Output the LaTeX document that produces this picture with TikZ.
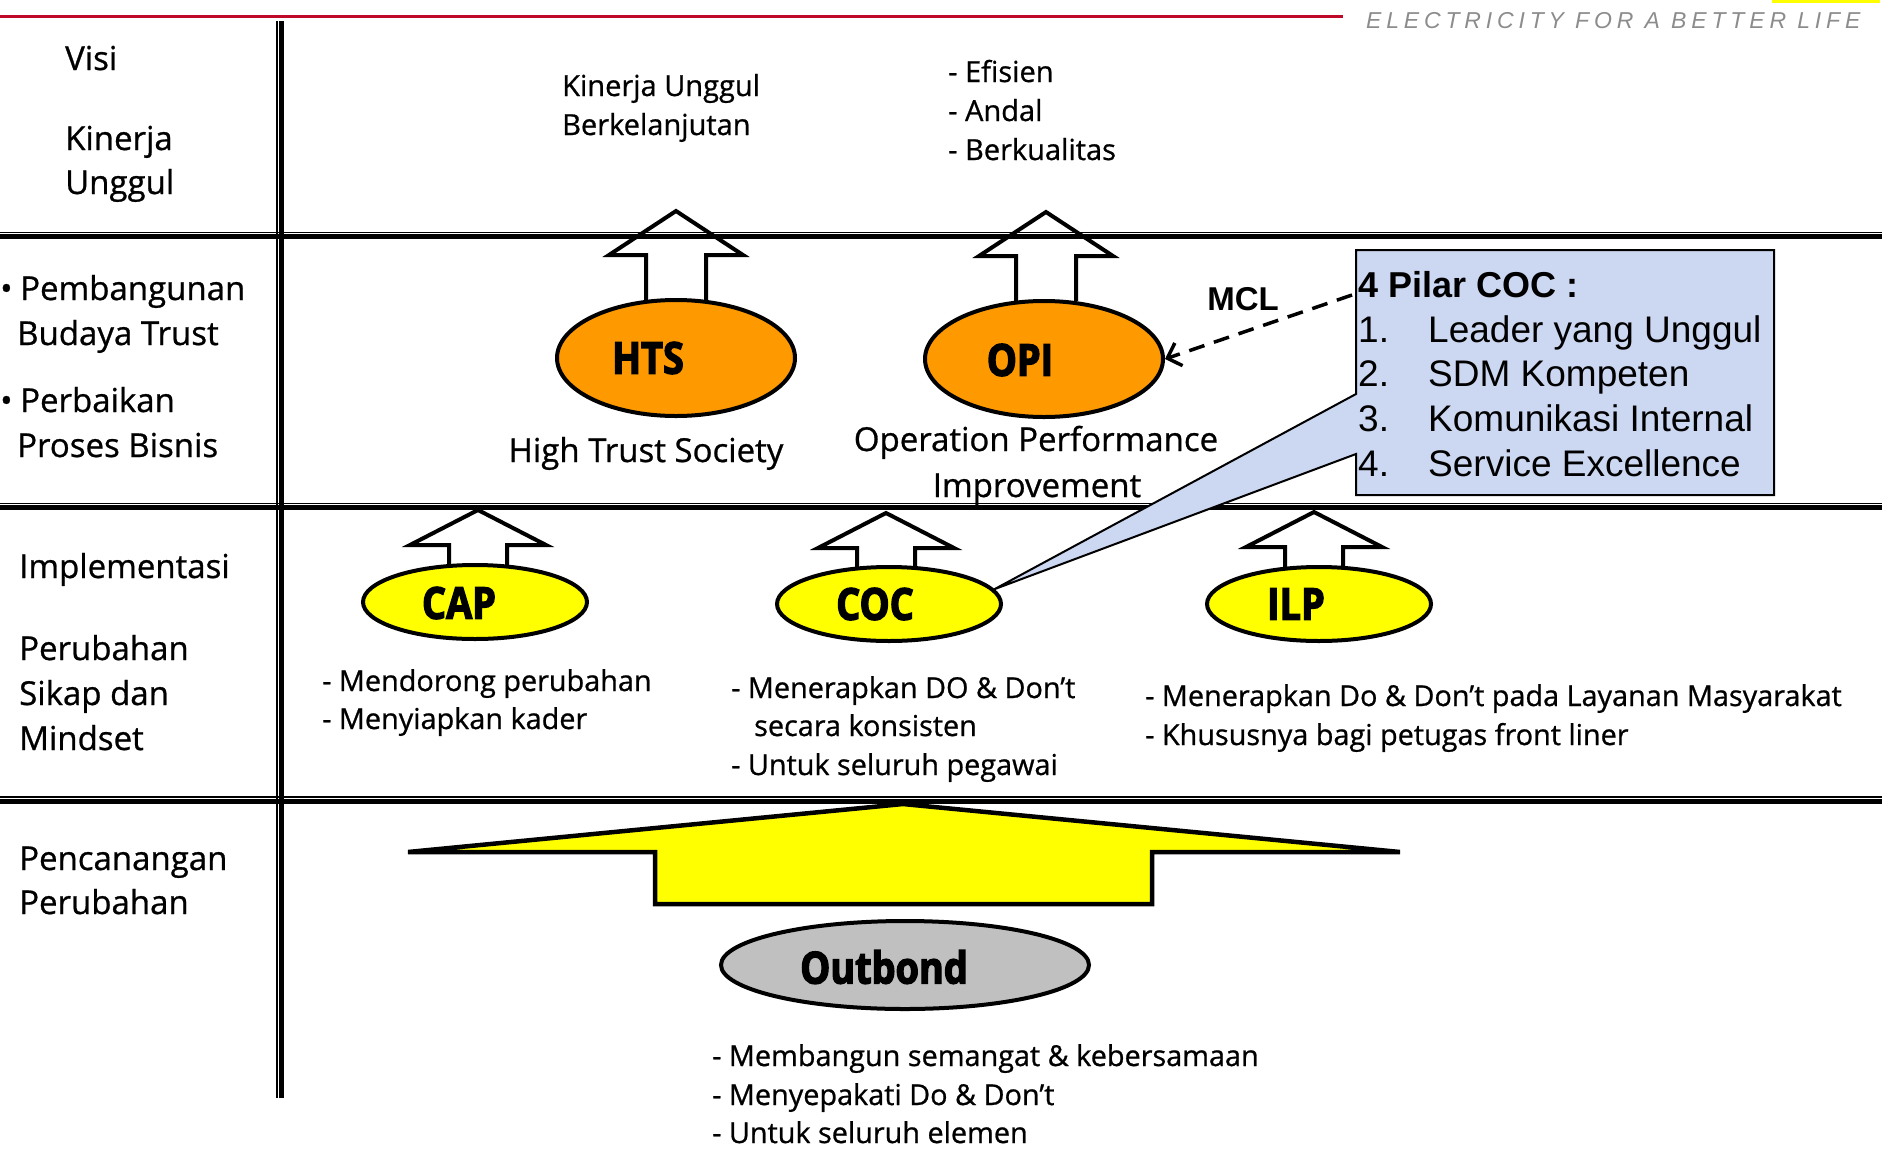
\documentclass[tikz,border=0pt]{standalone}
\usepackage{fontspec}
\setmainfont{Open Sans}[FakeBold=0.8]
\newfontfamily\arialf{Liberation Sans}
\newfontfamily\heavyf{Open Sans}[FakeBold=3,FakeStretch=0.86]
\usetikzlibrary{shapes.geometric,arrows.meta}
\definecolor{orng}{RGB}{255,153,0}
\definecolor{ylw}{RGB}{255,255,0}
\definecolor{gry}{RGB}{192,192,192}
\definecolor{lblue}{RGB}{204,216,242}
\definecolor{pred}{RGB}{190,10,40}
\definecolor{tagg}{RGB}{140,140,140}
\tikzset{
 lbl/.style={anchor=base west, inner sep=0, font=\fontsize{33}{40}\selectfont},
 body/.style={anchor=base west, inner sep=0, font=\fontsize{28.8}{34}\selectfont},
 mid/.style={anchor=base, inner sep=0, font=\fontsize{33}{40}\selectfont},
 ell/.style={ellipse, draw, line width=4, inner sep=0},
 hvy/.style={inner sep=0, font=\heavyf\bfseries\fontsize{44}{50}\selectfont},
 arrline/.style={draw, line width=4},
 boxtxt/.style={anchor=base west, inner sep=0, font=\arialf\fontsize{37}{44}\selectfont},
 thinrule/.style={line width=1.2},
 thickrule/.style={line width=4.2},
 bigup/.pic={\draw[arrline] (-30,0) -- (-30,-45) -- (-67,-45) -- (0,-89) -- (67,-45) -- (30,-45) -- (30,0);},
 smallup/.pic={\draw[arrline] (-29,0) -- (-29,-21) -- (-68,-21) -- (0,-56) -- (68,-21) -- (29,-21) -- (29,0);},
}
\begin{document}
\begin{tikzpicture}[x=1pt,y=-1pt]
\useasboundingbox (0,0) rectangle (1882,1173);
% header
\fill[pred] (0,15) rectangle (1343,17.5);
\fill[ylw] (1772,0) rectangle (1880,2.5);
\node[anchor=base west, inner sep=0, text=tagg, font=\arialf\itshape\fontsize{23}{26}\selectfont\addfontfeatures{LetterSpace=21}] (tag) at (1366,28) {ELECTRICITY FOR A BETTER LIFE};
% grid
\draw[thinrule] (277,21) -- (277,1098);
\draw[thickrule] (281.5,21) -- (281.5,1098);
\draw[thinrule] (0,232.5) -- (1882,232.5);
\draw[thickrule] (0,236.5) -- (1882,236.5);
\draw[thinrule] (0,503.5) -- (1882,503.5);
\draw[thickrule] (0,507.5) -- (1882,507.5);
\draw[thinrule] (0,797) -- (1882,797);
\draw[thickrule] (0,801.5) -- (1882,801.5);
% left column
\node[lbl] (visi) at (65,70) {Visi};
\node[lbl] (kin) at (65,150) {Kinerja};
\node[lbl] (ung) at (65,194) {Unggul};
\node[lbl] (bul1) at (0,300) {•};
\node[lbl] (pb1) at (20,300) {Pembangunan};
\node[lbl] (pb2) at (17,345) {Budaya Trust};
\node[lbl] (bul2) at (0,412) {•};
\node[lbl] (pp1) at (20,412) {Perbaikan};
\node[lbl] (pp2) at (17,457) {Proses Bisnis};
\node[lbl] (imp) at (19,578) {Implementasi};
\node[lbl] (ps1) at (19,660) {Perubahan};
\node[lbl] (ps2) at (19,705) {Sikap dan};
\node[lbl] (ps3) at (19,750) {Mindset};
\node[lbl] (pc1) at (19,870) {Pencanangan};
\node[lbl] (pc2) at (19,914) {Perubahan};
% top texts
\node[body, font=\fontsize{29}{34}\selectfont] (ku1) at (562,96) {Kinerja Unggul};
\node[body, font=\fontsize{29}{34}\selectfont] (ku2) at (562,135) {Berkelanjutan};
\node[body, font=\fontsize{29}{34}\selectfont] (ef1) at (948,82) {- Efisien};
\node[body, font=\fontsize{29}{34}\selectfont] (ef2) at (948,121) {- Andal};
\node[body, font=\fontsize{29}{34}\selectfont] (ef3) at (948,160) {- Berkualitas};
% arrows (hollow)
\pic at (676,300) {bigup};
\pic at (1046,301) {bigup};
\pic at (478,566) {smallup};
\pic at (886,569) {smallup};
\pic at (1314,568) {smallup};
% ellipses
\node[ell, fill=orng, minimum width=238, minimum height=116] (hts) at (676,358) {};
\node[hvy] (htsl) at (648,358) {HTS};
\node[ell, fill=orng, minimum width=238, minimum height=116] (opi) at (1044,359) {};
\node[hvy] (opil) at (1020,360) {OPI};
\node[ell, fill=ylw, minimum width=224, minimum height=74] (cap) at (475,602) {};
\node[hvy] (capl) at (459,603) {CAP};
\node[ell, fill=ylw, minimum width=224, minimum height=74] (coc) at (889,604) {};
\node[hvy] (cocl) at (875,604) {COC};
\node[ell, fill=ylw, minimum width=224, minimum height=74] (ilp) at (1319,604) {};
\node[hvy] (ilpl) at (1296,604) {ILP};
% captions
\node[mid] (hts2) at (646,462) {High Trust Society};
\node[mid] (opi2) at (1036,451) {Operation Performance};
\node[mid] (opi3) at (1037,497) {Improvement};
% callout
\path[draw, fill=lblue, line width=2] (1356,250) -- (1774,250) -- (1774,495) -- (1356,495) -- (1356,454) -- (coc.8) -- (1356,394) -- cycle;
\node[boxtxt, font=\arialf\bfseries\fontsize{36}{44}\selectfont] (pil) at (1358,297) {4 Pilar COC :};
\node[boxtxt] (n1) at (1358,342) {1.};
\node[boxtxt] (t1) at (1428,342) {Leader yang Unggul};
\node[boxtxt] (n2) at (1358,386) {2.};
\node[boxtxt] (t2) at (1428,386) {SDM Kompeten};
\node[boxtxt] (n3) at (1358,431) {3.};
\node[boxtxt] (t3) at (1428,431) {Komunikasi Internal};
\node[boxtxt] (n4) at (1358,476) {4.};
\node[boxtxt] (t4) at (1428,476) {Service Excellence};
% MCL
\node[inner sep=0, font=\arialf\bfseries\fontsize{33}{40}\selectfont] (mcl) at (1243,299) {MCL};
\coordinate (mclstart) at (1352,295);
\draw[line width=3.5, dash pattern=on 16pt off 10pt, -{Straight Barb[length=12pt,width=24pt,line width=3.5pt]}] (mclstart) -- (opi.east);
% implementation texts
\node[body] (cap1) at (322,691) {- Mendorong perubahan};
\node[body] (cap2) at (322,729) {- Menyiapkan kader};
\node[body] (coc1) at (731,698) {- Menerapkan DO \& Don’t};
\node[body] (coc2) at (754,736) {secara konsisten};
\node[body] (coc3) at (731,775) {- Untuk seluruh pegawai};
\node[body] (ilp1) at (1145,706) {- Menerapkan Do \& Don’t pada Layanan Masyarakat};
\node[body] (ilp2) at (1145,745) {- Khususnya bagi petugas front liner};
% big arrow + outbond
\path[draw, fill=ylw, line width=4.5] (655,904) -- (655,852) -- (408,852) -- (903,804) -- (1400,852) -- (1152,852) -- (1152,904) -- cycle;
\node[ell, fill=gry, minimum width=368, minimum height=88] (outb) at (905,965) {};
\node[hvy] (outbl) at (884,967) {Outbond};
\node[body] (ob1) at (712,1066) {- Membangun semangat \& kebersamaan};
\node[body] (ob2) at (712,1105) {- Menyepakati Do \& Don’t};
\node[body] (ob3) at (712,1143) {- Untuk seluruh elemen};
\end{tikzpicture}
\end{document}
